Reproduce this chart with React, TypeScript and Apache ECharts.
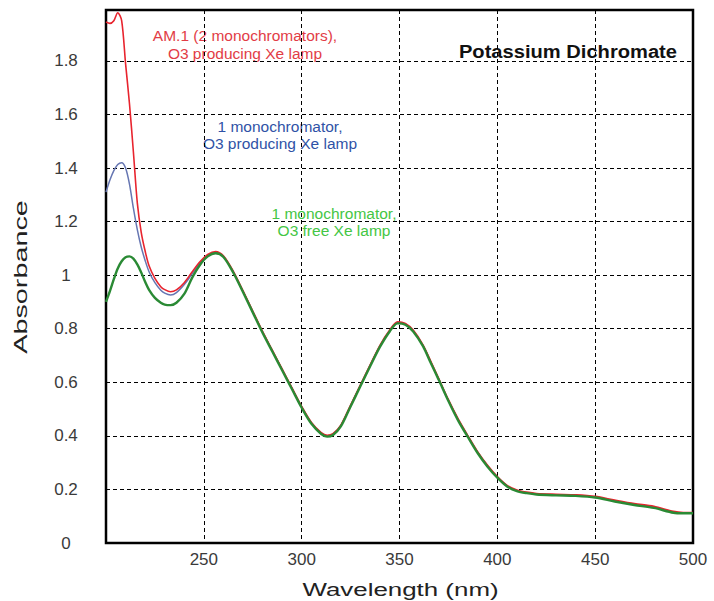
import React, { useEffect, useRef } from 'react';
import * as echarts from 'echarts';

const wavelengths = [
  200, 202, 204, 206, 208, 210, 212, 214, 216, 218,
  220, 222, 225, 228, 230, 233, 236, 240, 244, 248,
  252, 256, 260, 265, 270, 275, 280, 285, 290, 295,
  300, 305, 310, 313, 316, 320, 325, 330, 335, 340,
  345, 349, 353, 357, 362, 366, 370, 375, 380, 385,
  390, 395, 400, 405, 410, 415, 420, 430, 440, 450,
  460, 470, 480, 490, 495, 500,
];

// AM.1 (2 monochromators), O3 producing Xe lamp
const am1TwoMono = [
  1.945, 1.94, 1.95, 1.98, 1.95, 1.79, 1.64, 1.46, 1.27, 1.16,
  1.09, 1.035, 0.988, 0.957, 0.946, 0.938, 0.945, 0.972, 1.012, 1.05,
  1.077, 1.088, 1.072, 1.015, 0.942, 0.866, 0.79, 0.72, 0.65, 0.58,
  0.51, 0.45, 0.412, 0.402, 0.408, 0.44, 0.515, 0.59, 0.665, 0.738,
  0.795, 0.826, 0.82, 0.795, 0.74, 0.678, 0.615, 0.535, 0.463, 0.4,
  0.34, 0.29, 0.248, 0.215, 0.198, 0.19, 0.185, 0.182, 0.18, 0.174,
  0.16, 0.147, 0.137, 0.118, 0.114, 0.114,
];

// 1 monochromator, O3 producing Xe lamp
const oneMonoO3 = [
  1.31, 1.355, 1.39, 1.413, 1.42, 1.4, 1.34, 1.25, 1.17, 1.105,
  1.055, 1.013, 0.972, 0.944, 0.933, 0.926, 0.935, 0.965, 1.005, 1.045,
  1.073, 1.085, 1.07, 1.013, 0.94, 0.864, 0.788, 0.718, 0.648, 0.578,
  0.508, 0.448, 0.41, 0.4, 0.406, 0.438, 0.512, 0.588, 0.663, 0.735,
  0.792, 0.823, 0.818, 0.792, 0.737, 0.675, 0.612, 0.532, 0.46, 0.398,
  0.338, 0.288, 0.246, 0.213, 0.196, 0.188, 0.183, 0.18, 0.178, 0.172,
  0.157, 0.145, 0.134, 0.115, 0.113, 0.113,
];

// 1 monochromator, O3 free Xe lamp
const oneMonoO3Free = [
  0.9, 0.94, 0.985, 1.025, 1.052, 1.067, 1.07, 1.062, 1.04, 1.01,
  0.975, 0.945, 0.915, 0.897, 0.89, 0.888, 0.897, 0.93, 0.99, 1.038,
  1.07, 1.082, 1.068, 1.01, 0.937, 0.861, 0.785, 0.715, 0.645, 0.575,
  0.505, 0.445, 0.407, 0.397, 0.403, 0.435, 0.51, 0.585, 0.66, 0.732,
  0.79, 0.82, 0.815, 0.79, 0.735, 0.672, 0.61, 0.53, 0.457, 0.395,
  0.335, 0.285, 0.244, 0.211, 0.194, 0.186, 0.181, 0.178, 0.176, 0.17,
  0.155, 0.142, 0.131, 0.113, 0.111, 0.111,
];

const FONT = '"Liberation Sans", Arial, Helvetica, sans-serif';
const TICK_FONT = '"Liberation Sans Narrow", "Arial Narrow", "Liberation Sans", Arial, sans-serif';

export default function App() {
  const ref = useRef<HTMLDivElement>(null);

  useEffect(() => {
    const chart = echarts.init(ref.current!, null, { renderer: 'svg' });
    const pairs = (vals: number[]) => wavelengths.map((w, i) => [w, vals[i]]);
    const gridLine = { show: true, lineStyle: { color: '#000', type: [4, 3], width: 1 } };
    const label = { color: '#3a3a3a', fontSize: 17, fontFamily: TICK_FONT };

    chart.setOption({
      animation: false,
      backgroundColor: '#fff',
      grid: {
        left: 106,
        right: 21,
        top: 10,
        bottom: 58,
        show: true,
        borderColor: '#000',
        borderWidth: 2.5,
        backgroundColor: 'transparent',
      },
      xAxis: {
        type: 'value',
        min: 200,
        max: 500,
        interval: 50,
        axisLine: { show: false },
        axisTick: { show: false },
        axisLabel: { ...label, showMinLabel: false, margin: 8 },
        splitLine: gridLine,
      },
      yAxis: {
        type: 'value',
        min: 0,
        max: 1.99,
        interval: 0.2,
        axisLine: { show: false },
        axisTick: { show: false },
        axisLabel: { ...label, showMaxLabel: false, align: 'center', margin: 40 },
        splitLine: gridLine,
      },
      series: [
        {
          name: '1 monochromator, O3 producing Xe lamp',
          type: 'line',
          data: pairs(oneMonoO3),
          showSymbol: false,
          smooth: 0.3,
          silent: true,
          lineStyle: { color: '#6676b2', width: 1.5 },
        },
        {
          name: 'AM.1 (2 monochromators), O3 producing Xe lamp',
          type: 'line',
          data: pairs(am1TwoMono),
          showSymbol: false,
          smooth: 0.3,
          silent: true,
          lineStyle: { color: '#e8242e', width: 1.6 },
        },
        {
          name: '1 monochromator, O3 free Xe lamp',
          type: 'line',
          data: pairs(oneMonoO3Free),
          showSymbol: false,
          smooth: 0.3,
          silent: true,
          lineStyle: { color: '#2a8a34', width: 2.4 },
        },
      ],
      graphic: [
        {
          type: 'text',
          x: 677,
          y: 51,
          scaleX: 1.06,
          style: {
            text: 'Potassium Dichromate',
            font: `bold 19px ${FONT}`,
            fill: '#111',
            align: 'right',
            verticalAlign: 'middle',
          },
        },
        {
          type: 'text',
          x: 245,
          y: 44,
          style: {
            text: 'AM.1 (2 monochromators),\nO3 producing Xe lamp',
            font: `15.5px ${FONT}`,
            lineHeight: 18,
            fill: '#e23c46',
            align: 'center',
            verticalAlign: 'middle',
          },
        },
        {
          type: 'text',
          x: 280,
          y: 135,
          style: {
            text: '1 monochromator,\nO3 producing Xe lamp',
            font: `15.5px ${FONT}`,
            lineHeight: 17.5,
            fill: '#2f52a6',
            align: 'center',
            verticalAlign: 'middle',
          },
        },
        {
          type: 'text',
          x: 334,
          y: 222,
          style: {
            text: '1 monochromator,\nO3 free Xe lamp',
            font: `15.5px ${FONT}`,
            lineHeight: 17.5,
            fill: '#44c644',
            align: 'center',
            verticalAlign: 'middle',
          },
        },
        {
          type: 'text',
          x: 400.5,
          y: 590,
          scaleX: 1.48,
          style: {
            text: 'Wavelength (nm)',
            font: `17.5px ${FONT}`,
            fill: '#222',
            align: 'center',
            verticalAlign: 'middle',
          },
        },
        {
          type: 'text',
          x: 20.5,
          y: 277,
          rotation: Math.PI / 2,
          scaleX: 1.6,
          style: {
            text: 'Absorbance',
            font: `18px ${FONT}`,
            fill: '#222',
            align: 'center',
            verticalAlign: 'middle',
          },
        },
      ],
    });

    return () => chart.dispose();
  }, []);

  return (
    <div
      ref={ref}
      style={{ position: 'fixed', left: 0, top: 0, width: 714, height: 601, background: '#fff' }}
    />
  );
}
